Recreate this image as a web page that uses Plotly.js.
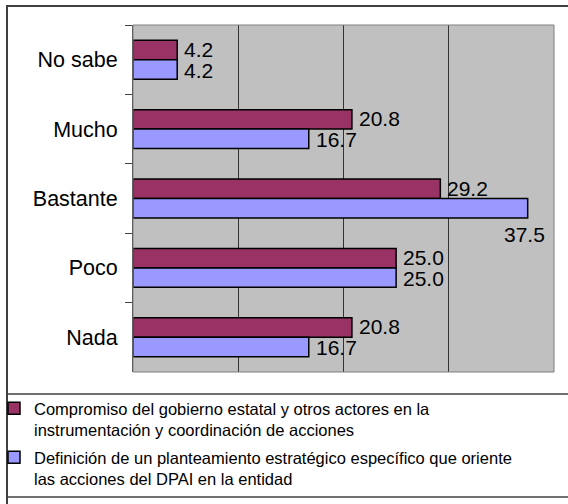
<!DOCTYPE html>
<html>
<head>
<meta charset="utf-8">
<script src="https://cdn.plot.ly/plotly-3.0.1.min.js"></script>
<style>
html,body{margin:0;padding:0;background:#fff;}
#chart{width:568px;height:504px;}
</style>
</head>
<body>
<div id="chart"></div>
<script>
// ---- data ----
var categories = ['No sabe', 'Mucho', 'Bastante', 'Poco', 'Nada'];
var seriesNames = [
  'Compromiso del gobierno estatal y otros actores en la<br>instrumentación y coordinación de acciones',
  'Definición de un planteamiento estratégico específico que oriente<br>las acciones del DPAI en la entidad'
];
var compromiso = [4.2, 20.8, 29.2, 25.0, 20.8];
var definicion = [4.2, 16.7, 37.5, 25.0, 16.7];
var xTicks = [0, 10, 20, 30, 40];

// ---- layout constants (pixels) ----
var W = 568, H = 504;
var L = 133, R = 14, T = 25, B = 132;
var pw = W - L - R, ph = H - T - B;
function px2x(p){ return (p - L) / pw; }
function py2y(p){ return (H - B - p) / ph; }

var colors = ['#993366', '#9999FF'];
var font = 'Liberation Sans, Arial, sans-serif';

var traces = [compromiso, definicion].map(function(vals, i){
  return {
    type: 'bar', orientation: 'h',
    x: vals, y: categories,
    name: seriesNames[i],
    legendgroup: 'g' + i,
    marker: {color: colors[i], line: {color: '#000', width: 1.5}},
    hoverinfo: 'x+y'
  };
});

var annotations = [];
[compromiso, definicion].forEach(function(vals, i){
  vals.forEach(function(v, j){
    var below = v > 34;
    annotations.push({
      x: v, y: categories[j], xref: 'x', yref: 'y',
      text: v.toFixed(1), showarrow: false,
      font: {family: font, size: 21, color: '#000'},
      xanchor: below ? 'center' : 'left',
      yanchor: 'middle',
      borderpad: 0,
      xshift: below ? -3 : 6,
      yshift: below ? -36 : (i === 0 ? 10.5 : -10.5)
    });
  });
});

var shapes = [
  {type:'rect', xref:'paper', yref:'paper', x0:0, x1:1, y0:0, y1:1,
   line:{color:'#808080', width:1}, layer:'above'},
  {type:'rect', xref:'paper', yref:'paper', x0:px2x(7), x1:px2x(575), y0:py2y(6), y1:py2y(520),
   line:{color:'#404040', width:2}},
  {type:'line', xref:'paper', yref:'paper', x0:px2x(7), x1:px2x(575), y0:py2y(394), y1:py2y(394),
   line:{color:'#404040', width:1.5}},
  {type:'line', xref:'paper', yref:'paper', x0:px2x(7), x1:px2x(575), y0:py2y(497), y1:py2y(497),
   line:{color:'#404040', width:1.5}}
];

var layout = {
  width: W, height: H,
  margin: {l: L, r: R, t: T, b: B, pad: 0, autoexpand: false},
  paper_bgcolor: '#ffffff',
  plot_bgcolor: '#C0C0C0',
  barmode: 'group',
  bargap: 0.44,
  bargroupgap: 0,
  font: {family: font, color: '#000'},
  showlegend: true,
  legend: {
    x: px2x(-6), y: py2y(391), xanchor: 'left', yanchor: 'top',
    orientation: 'v', valign: 'top',
    font: {family: font, size: 16.5, color: '#000'},
    bgcolor: 'rgba(0,0,0,0)', borderwidth: 0,
    tracegroupgap: 3, itemwidth: 30
  },
  xaxis: {
    range: [xTicks[0], xTicks[xTicks.length-1]],
    tickvals: xTicks, showticklabels: false, ticks: '',
    showgrid: true, gridcolor: '#333333', gridwidth: 1,
    zeroline: false, showline: false, fixedrange: true, automargin: false
  },
  yaxis: {
    type: 'category', categoryorder: 'array', categoryarray: categories,
    autorange: 'reversed', automargin: false,
    tickson: 'boundaries', ticks: 'outside', ticklen: 7, tickcolor: '#404040', tickwidth: 1,
    showline: true, linecolor: '#404040', linewidth: 1,
    showgrid: false, zeroline: false,
    tickfont: {family: font, size: 21.5, color: '#000'},
    ticklabelstandoff: 10,
    fixedrange: true
  },
  shapes: shapes,
  annotations: annotations
};

Plotly.newPlot('chart', traces, layout, {displayModeBar: false, staticPlot: true});
</script>
</body>
</html>
